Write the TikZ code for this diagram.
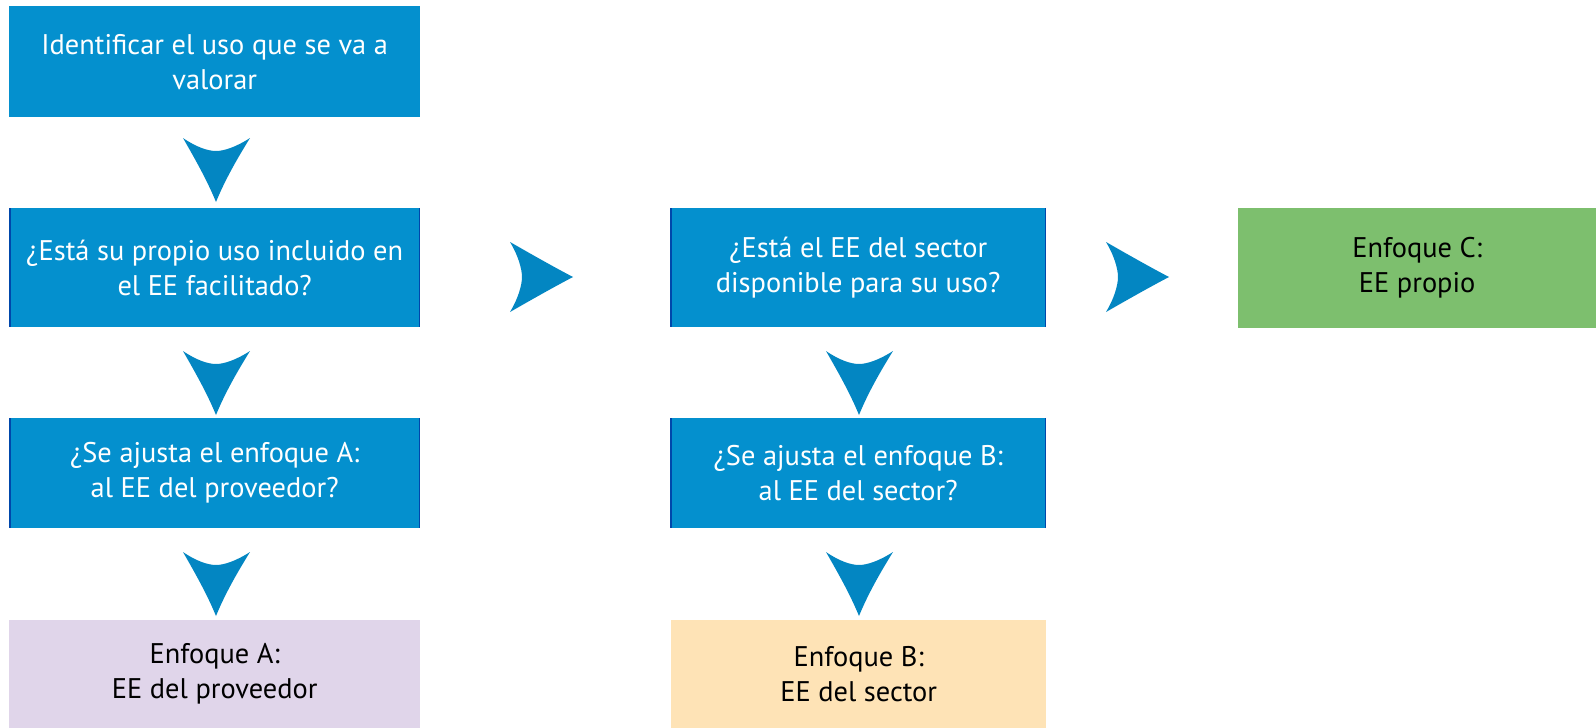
\documentclass[tikz,border=0pt]{standalone}
\usepackage{fontspec}
\setmainfont{PT Sans}
\definecolor{boxblue}{HTML}{0490CE}
\definecolor{arrowc}{HTML}{0386C2}
\definecolor{edgeblue}{HTML}{0047AB}
\definecolor{purplebox}{HTML}{E0D5EA}
\definecolor{orangebox}{HTML}{FEE3B6}
\definecolor{greenbox}{HTML}{7DBF6E}
\tikzset{
  card/.style={anchor=north west, inner sep=0pt, align=center,
    font=\fontsize{28.4}{35}\selectfont},
  bluecard/.style={card, fill=boxblue, text=white},
  downarr/.pic={\fill[arrowc] (-33,0) .. controls (-20,9) and (-8,13) .. (0,13)
      .. controls (8,13) and (20,9) .. (34,0)
      .. controls (21,21) and (9,42) .. (0,64)
      .. controls (-9,42) and (-21,21) .. (-33,0) -- cycle;},
  rightarr/.pic={\fill[arrowc] (0,-35) .. controls (8,-22) and (12,-8) .. (12,0)
      .. controls (12,8) and (8,22) .. (0,35)
      .. controls (21,23) and (42,11) .. (63,0)
      .. controls (42,-11) and (21,-23) .. (0,-35) -- cycle;},
  sideedge/.style={edgeblue, line width=1.6pt}
}
\begin{document}
\begin{tikzpicture}[x=1pt,y=-1pt]
\useasboundingbox (0,0) rectangle (1596,728);
% column 1
\node[bluecard, minimum width=411pt, minimum height=111pt] (b1) at (9,6)
  {Identificar el uso que se va a\\valorar};
\node[bluecard, minimum width=411pt, minimum height=119pt] (b2) at (9,208)
  {¿Está su propio uso incluido en\\el EE facilitado?};
\node[bluecard, minimum width=411pt, minimum height=110pt] (b3) at (9,418)
  {¿Se ajusta el enfoque A:\\al EE del proveedor?};
\node[card, fill=purplebox, minimum width=411pt, minimum height=108pt] (b4) at (9,620)
  {Enfoque A:\\EE del proveedor};
% column 2
\node[bluecard, minimum width=376pt, minimum height=119pt] (m2) at (670,208)
  {¿Está el EE del sector\\disponible para su uso?};
\node[bluecard, minimum width=376pt, minimum height=110pt] (m3) at (670,418)
  {¿Se ajusta el enfoque B:\\al EE del sector?};
\node[card, fill=orangebox, minimum width=375pt, minimum height=108pt] (m4) at (671,620)
  {Enfoque B:\\EE del sector};
% column 3
\node[card, fill=greenbox, minimum width=358pt, minimum height=120pt] (c2) at (1238,208)
  {Enfoque C:\\EE propio};
% dark side edges
\foreach \n in {b2,b3,m2,m3}{
  \draw[sideedge] ([xshift=0.8pt]\n.north west) -- ([xshift=0.8pt]\n.south west);
  \draw[sideedge] ([xshift=-0.8pt]\n.north east) -- ([xshift=-0.8pt]\n.south east);
}
% arrows
\pic at (216,138) {downarr};
\pic at (216,351) {downarr};
\pic at (216,552) {downarr};
\pic at (859,351) {downarr};
\pic at (859,552) {downarr};
\pic at (510,277) {rightarr};
\pic at (1106,277) {rightarr};
\end{tikzpicture}
\end{document}
